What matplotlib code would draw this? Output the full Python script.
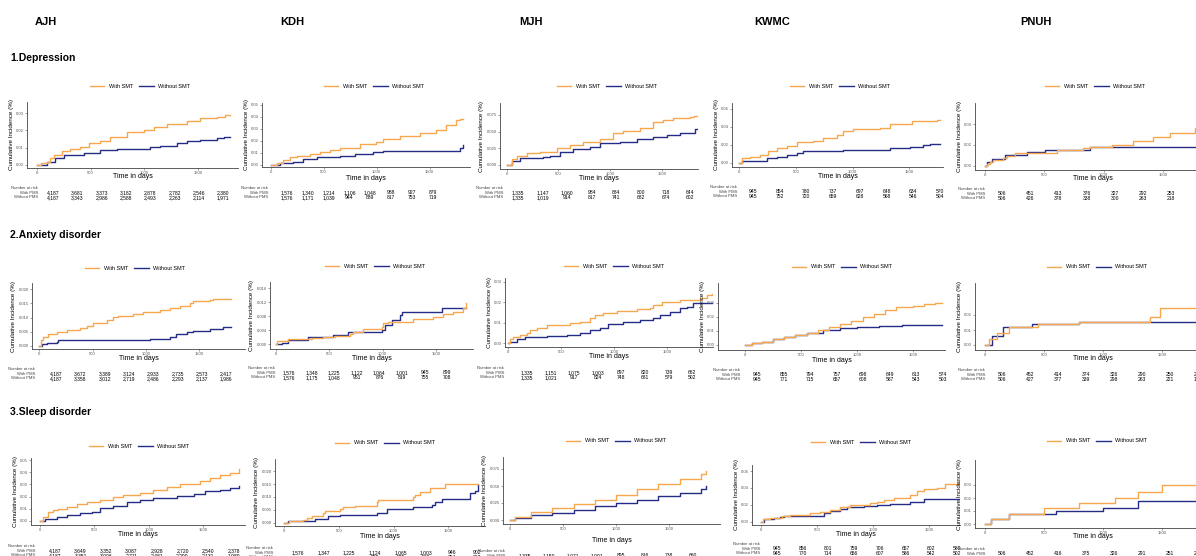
import matplotlib
matplotlib.use("Agg")
import matplotlib.pyplot as plt
from matplotlib.lines import Line2D

plt.rcParams['font.family'] = ['Liberation Sans', 'DejaVu Sans']

W, H = 1196, 556
ORANGE = "#F7A84E"
NAVY = "#252C85"

hospitals = ["AJH", "KDH", "MJH", "KWMC", "PNUH"]
outcomes = ["1.Depression", "2.Anxiety disorder", "3.Sleep disorder"]
legend_labels = ["With SMT", "Without SMT"]
risk_labels = ["Number at risk", "With PMS", "Without PMS"]
day_ticks = [0, 500, 1000, 1500]

# cumulative incidence, (day, value) at each step
ajh_dep_smt = [(0, 0), (40, 0.001), (93, 0.002), (124, 0.0039), (155, 0.0058), (233, 0.0083), (310, 0.0095),
               (404, 0.0106), (481, 0.0126), (590, 0.0139), (683, 0.0164), (839, 0.019), (994, 0.0203),
               (1087, 0.0222), (1211, 0.0236), (1398, 0.0252), (1522, 0.0271), (1677, 0.028), (1750, 0.029),
               (1801, 0.029)]
ajh_dep_no = [(0, 0), (93, 0.0019), (171, 0.0039), (248, 0.0058), (435, 0.0068), (590, 0.0087), (745, 0.0091),
              (1056, 0.0103), (1149, 0.0112), (1305, 0.0126), (1398, 0.0139), (1522, 0.0145), (1677, 0.0155),
              (1740, 0.0159), (1801, 0.0159)]
kdh_dep_smt = [(0, 0), (56, 0.0019), (119, 0.0042), (182, 0.0064), (245, 0.0078), (370, 0.0092), (464, 0.011),
               (559, 0.0125), (653, 0.0139), (841, 0.0175), (998, 0.0195), (1061, 0.0217), (1218, 0.0242),
               (1406, 0.027), (1563, 0.0292), (1657, 0.0334), (1751, 0.0375), (1790, 0.0384), (1814, 0.0384)]
kdh_dep_no = [(0, 0), (88, 0.0014), (213, 0.0028), (308, 0.0047), (433, 0.0064), (653, 0.0075), (794, 0.0092),
              (967, 0.0108), (1061, 0.012), (1688, 0.012), (1782, 0.0139), (1814, 0.0164)]
mjh_dep_smt = [(0, 0), (48, 0.0085), (97, 0.0135), (194, 0.0175), (323, 0.02), (484, 0.025), (613, 0.03),
               (742, 0.035), (903, 0.039), (1032, 0.0475), (1129, 0.0515), (1290, 0.055), (1419, 0.064),
               (1516, 0.0675), (1613, 0.07), (1774, 0.0725), (1810, 0.0735), (1839, 0.0735)]
mjh_dep_no = [(0, 0), (48, 0.0065), (129, 0.0105), (355, 0.0115), (419, 0.0135), (516, 0.02), (645, 0.024),
              (806, 0.0275), (903, 0.0325), (1097, 0.035), (1258, 0.0385), (1419, 0.0425), (1548, 0.045),
              (1677, 0.0485), (1820, 0.0535), (1839, 0.0535)]
kwmc_dep_smt = [(0, 0), (21, 0.0048), (94, 0.0059), (182, 0.0085), (256, 0.013), (329, 0.0159), (418, 0.0185),
                (506, 0.0233), (653, 0.024), (741, 0.027), (859, 0.0307), (918, 0.0352), (1006, 0.037),
                (1241, 0.0389), (1329, 0.0429), (1521, 0.0463), (1740, 0.0474), (1770, 0.0474)]
kwmc_dep_no = [(0, 0), (21, 0.0019), (241, 0.0048), (329, 0.0067), (418, 0.0085), (506, 0.011), (565, 0.0133),
               (918, 0.0144), (1329, 0.0163), (1506, 0.0178), (1623, 0.0196), (1682, 0.0207), (1770, 0.0207)]
pnuh_dep_smt = [(0, 0), (20, 0.0016), (42, 0.0032), (65, 0.0055), (155, 0.0071), (183, 0.0094), (253, 0.0126),
                (604, 0.0152), (830, 0.0168), (885, 0.0178), (1068, 0.02), (1250, 0.0239), (1419, 0.0281),
                (1560, 0.032), (1770, 0.036), (1790, 0.036)]
pnuh_dep_no = [(0, 0), (14, 0.0039), (56, 0.0061), (169, 0.0103), (351, 0.0129), (506, 0.0152), (885, 0.0184),
               (1790, 0.0184)]

ajh_anx_smt = [(0, 0), (12, 0.002), (37, 0.0032), (84, 0.0041), (162, 0.005), (256, 0.0055), (381, 0.0061),
               (444, 0.007), (506, 0.0081), (631, 0.0091), (694, 0.0103), (741, 0.0107), (881, 0.0112),
               (975, 0.0118), (1131, 0.0126), (1225, 0.0132), (1319, 0.0142), (1412, 0.015), (1444, 0.0159),
               (1600, 0.0162), (1631, 0.0165), (1803, 0.0165)]
ajh_anx_no = [(0, 0), (22, 0.0006), (69, 0.0011), (162, 0.0014), (178, 0.002), (1037, 0.0022), (1225, 0.003),
              (1287, 0.0041), (1381, 0.005), (1444, 0.0053), (1600, 0.0059), (1725, 0.0067), (1803, 0.0067)]
kdh_anx_smt = [(0, 0), (10, 0.001), (116, 0.0014), (334, 0.0017), (444, 0.002), (553, 0.0024), (694, 0.003),
               (725, 0.0036), (819, 0.0044), (991, 0.0049), (1006, 0.006), (1053, 0.0065), (1287, 0.0072),
               (1475, 0.0079), (1569, 0.0087), (1662, 0.0093), (1756, 0.0103), (1787, 0.0117)]
kdh_anx_no = [(0, 0), (53, 0.0005), (116, 0.0012), (303, 0.002), (538, 0.0027), (678, 0.0036), (991, 0.0041),
              (1022, 0.0055), (1084, 0.007), (1162, 0.0084), (1178, 0.0091), (1553, 0.0103), (1787, 0.0103)]
mjh_anx_smt = [(0, 0), (16, 0.002), (47, 0.0029), (110, 0.0041), (173, 0.0052), (204, 0.0065), (267, 0.0073),
               (362, 0.0089), (582, 0.0098), (676, 0.0106), (771, 0.0122), (818, 0.0138), (896, 0.0146),
               (1022, 0.0158), (1211, 0.0166), (1337, 0.0171), (1368, 0.0187), (1447, 0.02), (1620, 0.0211),
               (1808, 0.022), (1871, 0.0236), (1918, 0.0241)]
mjh_anx_no = [(0, 0), (16, 0.0008), (79, 0.002), (157, 0.0029), (362, 0.0036), (550, 0.0041), (676, 0.0049),
              (771, 0.0065), (865, 0.0073), (943, 0.0094), (1085, 0.0106), (1242, 0.0114), (1368, 0.0122),
              (1431, 0.0138), (1525, 0.0154), (1620, 0.0171), (1683, 0.0179), (1745, 0.0195), (1918, 0.0195)]
kwmc_anx_smt = [(0, 0), (60, 0.0015), (150, 0.0025), (250, 0.004), (350, 0.0055), (450, 0.0068), (550, 0.0085),
                (650, 0.011), (750, 0.013), (850, 0.015), (950, 0.017), (1050, 0.02), (1150, 0.022),
                (1250, 0.025), (1350, 0.027), (1500, 0.028), (1600, 0.029), (1700, 0.03), (1760, 0.03)]
kwmc_anx_no = [(0, 0), (60, 0.0015), (150, 0.0025), (250, 0.004), (350, 0.0055), (450, 0.007), (550, 0.0085),
               (700, 0.0105), (850, 0.012), (1000, 0.013), (1200, 0.0136), (1400, 0.014), (1760, 0.0143)]
pnuh_anx_smt = [(0, 0), (30, 0.004), (100, 0.008), (200, 0.012), (450, 0.014), (800, 0.0153), (1400, 0.019),
                (1480, 0.0247), (1800, 0.0247)]
pnuh_anx_no = [(0, 0), (60, 0.006), (150, 0.012), (400, 0.014), (800, 0.0153), (1800, 0.0153)]

ajh_slp_smt = [(0, 0), (31, 0.0035), (77, 0.0071), (123, 0.009), (169, 0.0101), (245, 0.0117), (337, 0.0139),
               (429, 0.0158), (552, 0.0172), (675, 0.0194), (767, 0.0213), (920, 0.0232), (1043, 0.0254),
               (1165, 0.0281), (1288, 0.0303), (1472, 0.033), (1564, 0.0349), (1656, 0.0377), (1748, 0.0396),
               (1825, 0.0423)]
ajh_slp_no = [(0, 0), (46, 0.0019), (153, 0.003), (245, 0.0049), (368, 0.0068), (475, 0.0076), (552, 0.0104),
              (675, 0.0123), (797, 0.0158), (920, 0.0172), (1043, 0.0186), (1257, 0.0205), (1411, 0.0221),
              (1518, 0.0248), (1656, 0.0254), (1748, 0.0268), (1825, 0.0287)]
kdh_slp_smt = [(0, 0), (46, 0.0006), (174, 0.001), (204, 0.0019), (250, 0.0027), (357, 0.0036), (372, 0.0045),
               (509, 0.0055), (540, 0.0062), (646, 0.0065), (845, 0.0081), (860, 0.0088), (1180, 0.0098),
               (1195, 0.0107), (1241, 0.012), (1332, 0.0133), (1470, 0.015), (1775, 0.015)]
kdh_slp_no = [(0, 0), (37, 0.0008), (281, 0.0014), (402, 0.0026), (509, 0.003), (845, 0.0039), (936, 0.0052),
              (1180, 0.0059), (1348, 0.0068), (1378, 0.0081), (1439, 0.009), (1698, 0.0114), (1744, 0.0124),
              (1775, 0.0148)]
mjh_slp_smt = [(0, 0), (50, 0.005), (200, 0.012), (400, 0.018), (600, 0.024), (800, 0.03), (1000, 0.037),
               (1200, 0.045), (1400, 0.053), (1600, 0.06), (1800, 0.068), (1850, 0.072)]
mjh_slp_no = [(0, 0), (50, 0.003), (200, 0.008), (400, 0.011), (600, 0.015), (800, 0.02), (1000, 0.025),
              (1200, 0.03), (1400, 0.035), (1600, 0.04), (1800, 0.045), (1850, 0.05)]
kwmc_slp_smt = [(0, 0), (18, 0.0028), (83, 0.0047), (187, 0.0071), (262, 0.0079), (440, 0.0099), (530, 0.0118),
                (619, 0.0138), (708, 0.0169), (797, 0.0197), (976, 0.0217), (1036, 0.0236), (1095, 0.0256),
                (1184, 0.0276), (1333, 0.0315), (1393, 0.0366), (1452, 0.0382), (1571, 0.0402), (1646, 0.0445),
                (1765, 0.0493)]
kwmc_slp_no = [(0, 0), (24, 0.0028), (113, 0.0039), (173, 0.0059), (202, 0.0067), (559, 0.0106), (619, 0.013),
               (708, 0.0146), (768, 0.0169), (917, 0.0185), (1036, 0.0197), (1155, 0.0209), (1333, 0.0236),
               (1452, 0.0264), (1765, 0.0264)]
pnuh_slp_smt = [(0, 0), (50, 0.004), (200, 0.008), (500, 0.012), (800, 0.016), (1100, 0.02), (1300, 0.025),
                (1500, 0.03), (1800, 0.032)]
pnuh_slp_no = [(0, 0), (50, 0.004), (200, 0.008), (600, 0.01), (1000, 0.012), (1300, 0.018), (1800, 0.018)]

# numbers at risk
ajh_dep_risk_smt = ["4,187", "3,681", "3,373", "3,182", "2,878", "2,782", "2,546", "2,380"]
ajh_dep_risk_no = ["4,187", "3,343", "2,986", "2,588", "2,493", "2,263", "2,114", "1,971"]
kdh_dep_risk_smt = ["1,576", "1,340", "1,214", "1,106", "1,048", "988", "927", "879"]
kdh_dep_risk_no = ["1,576", "1,171", "1,039", "944", "889", "817", "753", "719"]
mjh_dep_risk_smt = ["1,335", "1,147", "1,060", "984", "884", "800", "718", "644"]
mjh_dep_risk_no = ["1,335", "1,019", "914", "817", "741", "682", "674", "602"]
kwmc_dep_risk_smt = ["945", "854", "780", "737", "697", "648", "634", "570"]
kwmc_dep_risk_no = ["945", "752", "720", "659", "628", "568", "546", "504"]
pnuh_dep_risk_smt = ["506", "451", "413", "376", "327", "292", "253", "213"]
pnuh_dep_risk_no = ["506", "426", "378", "338", "300", "263", "218", "183"]
ajh_anx_risk_smt = ["4,187", "3,672", "3,389", "3,124", "2,933", "2,735", "2,573", "2,417"]
ajh_anx_risk_no = ["4,187", "3,358", "3,012", "2,719", "2,486", "2,293", "2,137", "1,986"]
kdh_anx_risk_smt = ["1,576", "1,348", "1,225", "1,122", "1,064", "1,001", "945", "899"]
kdh_anx_risk_no = ["1,576", "1,175", "1,048", "951", "876", "819", "755", "708"]
mjh_anx_risk_smt = ["1,335", "1,151", "1,075", "1,003", "897", "820", "739", "662"]
mjh_anx_risk_no = ["1,335", "1,021", "917", "824", "748", "681", "579", "502"]
kwmc_anx_risk_smt = ["945", "855", "794", "757", "698", "649", "613", "574"]
kwmc_anx_risk_no = ["945", "771", "715", "657", "608", "587", "543", "503"]
pnuh_anx_risk_smt = ["506", "452", "414", "374", "326", "290", "250", "212"]
pnuh_anx_risk_no = ["506", "427", "377", "339", "298", "263", "221", "184"]
ajh_slp_risk_smt = ["4,187", "3,649", "3,352", "3,087", "2,928", "2,720", "2,540", "2,378"]
ajh_slp_risk_no = ["4,187", "3,351", "3,006", "2,711", "2,481", "2,290", "2,131", "1,980"]
kdh_slp_risk_smt = ["1,576", "1,347", "1,225", "1,124", "1,065", "1,003", "946", "902"]
kdh_slp_risk_no = ["1,576", "1,175", "1,047", "950", "875", "818", "754", "707"]
mjh_slp_risk_smt = ["1,335", "1,150", "1,071", "1,001", "895", "816", "738", "660"]
mjh_slp_risk_no = ["1,335", "1,020", "916", "823", "747", "680", "578", "501"]
kwmc_slp_risk_smt = ["945", "856", "801", "759", "706", "657", "602", "580"]
kwmc_slp_risk_no = ["945", "770", "714", "656", "607", "586", "542", "502"]
pnuh_slp_risk_smt = ["506", "452", "416", "375", "326", "291", "251", "212"]
pnuh_slp_risk_no = ["506", "427", "378", "339", "298", "262", "220", "183"]

# y ticks per panel
yticks = {
    ("dep", "AJH"): [0, 0.01, 0.02, 0.03], ("dep", "KDH"): [0, 0.01, 0.02, 0.03, 0.04, 0.05],
    ("dep", "MJH"): [0, 0.025, 0.05, 0.075], ("dep", "KWMC"): [0, 0.02, 0.04, 0.06],
    ("dep", "PNUH"): [0, 0.02, 0.04],
    ("anx", "AJH"): [0, 0.005, 0.01, 0.015, 0.02], ("anx", "KDH"): [0, 0.004, 0.008, 0.012, 0.016],
    ("anx", "MJH"): [0, 0.01, 0.02, 0.03], ("anx", "KWMC"): [0, 0.01, 0.02, 0.03],
    ("anx", "PNUH"): [0, 0.01, 0.02],
    ("slp", "AJH"): [0, 0.01, 0.02, 0.03, 0.04, 0.05], ("slp", "KDH"): [0, 0.005, 0.01, 0.015, 0.02],
    ("slp", "MJH"): [0, 0.025, 0.05, 0.075], ("slp", "KWMC"): [0, 0.02, 0.04, 0.06],
    ("slp", "PNUH"): [0, 0.01, 0.02, 0.03],
}

series = {
    "dep": {"AJH": (ajh_dep_smt, ajh_dep_no, ajh_dep_risk_smt, ajh_dep_risk_no),
            "KDH": (kdh_dep_smt, kdh_dep_no, kdh_dep_risk_smt, kdh_dep_risk_no),
            "MJH": (mjh_dep_smt, mjh_dep_no, mjh_dep_risk_smt, mjh_dep_risk_no),
            "KWMC": (kwmc_dep_smt, kwmc_dep_no, kwmc_dep_risk_smt, kwmc_dep_risk_no),
            "PNUH": (pnuh_dep_smt, pnuh_dep_no, pnuh_dep_risk_smt, pnuh_dep_risk_no)},
    "anx": {"AJH": (ajh_anx_smt, ajh_anx_no, ajh_anx_risk_smt, ajh_anx_risk_no),
            "KDH": (kdh_anx_smt, kdh_anx_no, kdh_anx_risk_smt, kdh_anx_risk_no),
            "MJH": (mjh_anx_smt, mjh_anx_no, mjh_anx_risk_smt, mjh_anx_risk_no),
            "KWMC": (kwmc_anx_smt, kwmc_anx_no, kwmc_anx_risk_smt, kwmc_anx_risk_no),
            "PNUH": (pnuh_anx_smt, pnuh_anx_no, pnuh_anx_risk_smt, pnuh_anx_risk_no)},
    "slp": {"AJH": (ajh_slp_smt, ajh_slp_no, ajh_slp_risk_smt, ajh_slp_risk_no),
            "KDH": (kdh_slp_smt, kdh_slp_no, kdh_slp_risk_smt, kdh_slp_risk_no),
            "MJH": (mjh_slp_smt, mjh_slp_no, mjh_slp_risk_smt, mjh_slp_risk_no),
            "KWMC": (kwmc_slp_smt, kwmc_slp_no, kwmc_slp_risk_smt, kwmc_slp_risk_no),
            "PNUH": (pnuh_slp_smt, pnuh_slp_no, pnuh_slp_risk_smt, pnuh_slp_risk_no)},
}

# pixel layout: axes box (l, t, r, b), x of day 0, px per 500 days, y of 0, px per y tick step,
# legend centre, x-label y, risk header y, first risk column x, column step, risk label right edge
layout = {
    ("dep", "AJH"): dict(box=(27, 102, 238, 168), t0=37, d500=53.7, v0=165, vpx=17.3, leg=(140, 86),
                         xl=177, ry=188, rx=53, rdx=24.3, lx=38),
    ("dep", "KDH"): dict(box=(262, 103, 470, 167), t0=270.7, d500=53, v0=165, vpx=12, leg=(374, 86),
                         xl=178, ry=188, rx=287, rdx=20.8, lx=268),
    ("dep", "MJH"): dict(box=(500, 103, 698, 169), t0=506.7, d500=51.7, v0=165, vpx=16.7, leg=(607, 86),
                         xl=178, ry=188, rx=518, rdx=24.6, lx=503),
    ("dep", "KWMC"): dict(box=(732, 103, 943, 167), t0=739.3, d500=56.7, v0=162.7, vpx=18, leg=(840, 86),
                          xl=176, ry=187, rx=753, rdx=26.7, lx=737),
    ("dep", "PNUH"): dict(box=(975, 103, 1210, 170), t0=985, d500=59.3, v0=165.7, vpx=20.7, leg=(1095, 86),
                          xl=179, ry=189, rx=1002, rdx=28.2, lx=985),
    ("anx", "AJH"): dict(box=(32, 283, 245, 349), t0=39.3, d500=53.3, v0=345.7, vpx=14.1, leg=(135, 268),
                         xl=359, ry=369, rx=56, rdx=24.3, lx=35),
    ("anx", "KDH"): dict(box=(270, 282, 473, 349), t0=276, d500=53.3, v0=344.3, vpx=14, leg=(375, 266),
                         xl=358, ry=368, rx=289, rdx=22.6, lx=275),
    ("anx", "MJH"): dict(box=(505, 278, 713, 347), t0=508.3, d500=53, v0=343.3, vpx=20.5, leg=(614, 266),
                         xl=357, ry=368, rx=527, rdx=23.6, lx=504),
    ("anx", "KWMC"): dict(box=(718, 283, 945, 350), t0=745, d500=56, v0=345, vpx=14, leg=(842, 267),
                          xl=360, ry=370, rx=757, rdx=26.5, lx=740),
    ("anx", "PNUH"): dict(box=(975, 283, 1210, 350), t0=985, d500=59, v0=345, vpx=15, leg=(1097, 267),
                          xl=359, ry=370, rx=1002, rdx=28, lx=985),
    ("slp", "AJH"): dict(box=(31, 458, 245, 525), t0=40, d500=54.4, v0=521, vpx=12.2, leg=(139, 446),
                         xl=534, ry=546, rx=55, rdx=25.5, lx=35),
    ("slp", "KDH"): dict(box=(275, 459, 485, 526), t0=284.3, d500=54.7, v0=522.7, vpx=12.9, leg=(385, 443),
                         xl=537, ry=548, rx=298, rdx=25.6, lx=273),
    ("slp", "MJH"): dict(box=(503, 457, 720, 524), t0=510, d500=53, v0=520, vpx=17, leg=(616, 441),
                         xl=540, ry=551, rx=525, rdx=24, lx=505),
    ("slp", "KWMC"): dict(box=(752, 465, 960, 525), t0=761, d500=56, v0=521.7, vpx=16.9, leg=(861, 442),
                          xl=534, ry=544, rx=777, rdx=25.7, lx=760),
    ("slp", "PNUH"): dict(box=(975, 460, 1210, 528), t0=985, d500=59, v0=524, vpx=13, leg=(1097, 441),
                          xl=537, ry=549, rx=1002, rdx=28, lx=985),
}

fig = plt.figure(figsize=(W / 100, H / 100), dpi=100)

for name, x in zip(hospitals, [46, 292, 531, 772, 1036]):
    fig.text(x / W, 1 - 22 / H, name, ha='center', va='center', fontsize=8, fontweight='bold')
for name, y in zip(outcomes, [58, 235, 412]):
    fig.text(10 / W, 1 - y / H, name, ha='left', va='center', fontsize=7.5, fontweight='bold')


def draw_panel(key, smt, no, risk_smt, risk_no):
    L = layout[key]
    l, t, r, b = L["box"]
    ax = fig.add_axes([l / W, 1 - b / H, (r - l) / W, (b - t) / H])
    ticks = yticks[key]
    step = ticks[1]
    ax.set_xlim((l - L["t0"]) / L["d500"] * 500, (r - L["t0"]) / L["d500"] * 500)
    ax.set_ylim((L["v0"] - b) / L["vpx"] * step, (L["v0"] - t) / L["vpx"] * step)
    for pts, c in [(no, NAVY), (smt, ORANGE)]:
        ax.plot([p[0] for p in pts], [p[1] for p in pts], drawstyle='steps-post', color=c, lw=1.0)
    ax.set_xticks(day_ticks)
    ax.set_yticks(ticks)
    dec = max(len(("%g" % v).split(".")[-1]) if "." in ("%g" % v) else 0 for v in ticks)
    ax.set_yticklabels([("%." + str(max(dec, 2)) + "f") % v for v in ticks])
    ax.tick_params(labelsize=3, length=1.5, width=0.4, pad=1, colors="#555555")
    for s in ["top", "right"]:
        ax.spines[s].set_visible(False)
    for s in ["left", "bottom"]:
        ax.spines[s].set_linewidth(0.6)
        ax.spines[s].set_color("#444444")
    ax.set_ylabel("Cumulative Incidence (%)", fontsize=4.5, labelpad=1.5)
    fig.text((l + r) / 2 / W, 1 - L["xl"] / H, "Time in days", ha='center', va='center', fontsize=5)
    handles = [Line2D([], [], color=ORANGE, lw=1.0), Line2D([], [], color=NAVY, lw=1.0)]
    cx, cy = L["leg"]
    fig.legend(handles, legend_labels, loc='center', bbox_to_anchor=(cx / W, 1 - cy / H), ncol=2,
               frameon=False, fontsize=4, handlelength=2.6, handletextpad=0.8, columnspacing=1.2,
               borderpad=0)
    ry = L["ry"]
    for i, lab in enumerate(risk_labels):
        fig.text(L["lx"] / W, 1 - (ry + 4.7 * i) / H, lab, ha='right', va='center', fontsize=3,
                 color="#444444")
    for j, (a, c) in enumerate(zip(risk_smt, risk_no)):
        x = (L["rx"] + j * L["rdx"]) / W
        fig.text(x, 1 - (ry + 4.7) / H, a, ha='center', va='center', fontsize=3.6)
        fig.text(x, 1 - (ry + 9.4) / H, c, ha='center', va='center', fontsize=3.6)


for outcome in ["dep", "anx", "slp"]:
    for hosp in hospitals:
        draw_panel((outcome, hosp), *series[outcome][hosp])

fig.savefig("out.png", dpi=100)
